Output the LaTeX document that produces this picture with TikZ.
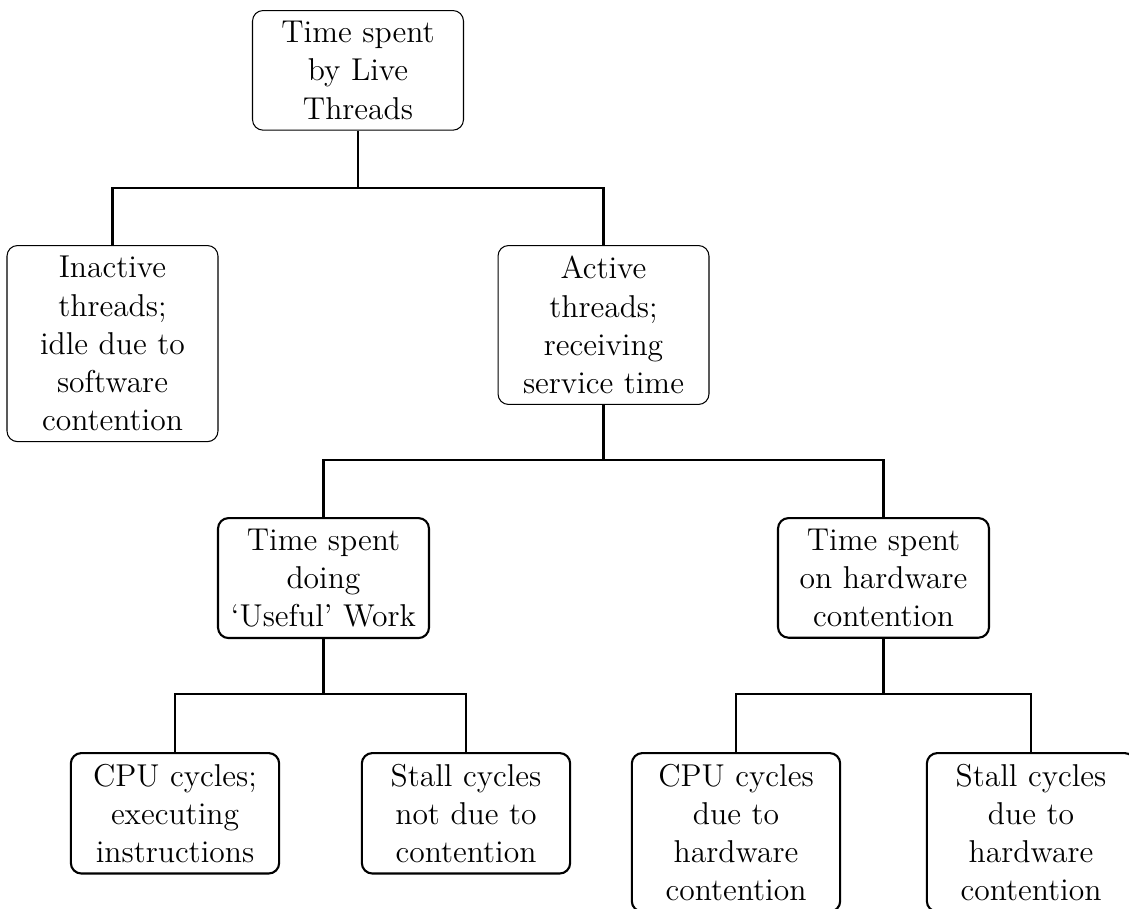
\documentclass[12pt,tikz,border=0pt]{standalone}
\usetikzlibrary{positioning}
\begin{document}
\begin{tikzpicture}[x=0.380pt, y=-0.380pt,
  thinbox/.style={draw, rounded corners=4pt, line width=0.4pt, align=center, text width=73.5pt, inner xsep=3.333pt, inner ysep=4.1pt, anchor=north},
  thickbox/.style={draw, rounded corners=4pt, line width=0.8pt, align=center, text width=73.5pt, inner xsep=3.333pt, inner ysep=4.1pt, anchor=north},
  leafbox/.style={thickbox, text width=72.5pt},
  conn/.style={line width=0.8pt}]
\useasboundingbox (0,0) rectangle (1129,908);
\node[thinbox] (root) at (358,10) {Time spent\\by Live\\Threads};
\node[thinbox] (inactive) at (112.5,245) {Inactive\\threads;\\idle due to\\software\\contention};
\node[thinbox] (active) at (603.5,245) {Active\\threads;\\receiving\\service time};
\node[thickbox] (useful) at (323.5,517) {Time spent\\doing\\`Useful' Work};
\node[thickbox] (hw) at (883.5,517) {Time spent\\on hardware\\contention};
\node[leafbox] (cpu1) at (175,752) {CPU cycles;\\executing\\instructions};
\node[leafbox] (stall1) at (466,752) {Stall cycles\\not due to\\contention};
\node[leafbox] (cpu2) at (736,752) {CPU cycles\\due to\\hardware\\contention};
\node[leafbox] (stall2) at (1031,752) {Stall cycles\\due to\\hardware\\contention};
\coordinate (b1) at (358,188);
\coordinate (b2) at (603.5,460);
\coordinate (b3) at (323.5,694);
\coordinate (b4) at (883.5,694);
\draw[conn] (root.south) -- (b1) -| (inactive.north);
\draw[conn] (b1) -| (active.north);
\draw[conn] (active.south) -- (b2) -| (useful.north);
\draw[conn] (b2) -| (hw.north);
\draw[conn] (useful.south) -- (b3) -| (cpu1.north);
\draw[conn] (b3) -| (stall1.north);
\draw[conn] (hw.south) -- (b4) -| (cpu2.north);
\draw[conn] (b4) -| (stall2.north);
\end{tikzpicture}
\end{document}
